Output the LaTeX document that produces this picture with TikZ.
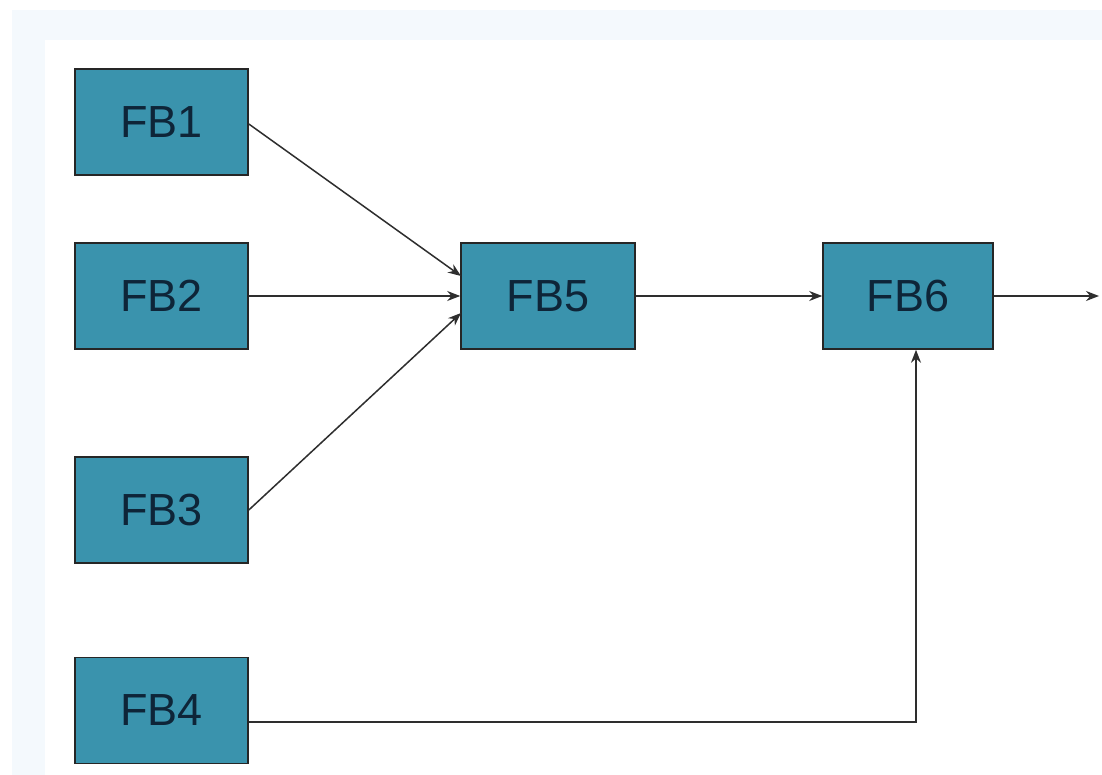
\documentclass[tikz,border=0pt]{standalone}
\usepackage{fontspec}
\setmainfont{Liberation Sans}
\usetikzlibrary{arrows.meta}
\definecolor{boxfill}{HTML}{3A93AD}
\definecolor{boxtext}{HTML}{0E2538}
\definecolor{bgblue}{HTML}{F4F9FD}
\definecolor{linec}{HTML}{2E2E2E}
\begin{document}
\begin{tikzpicture}[x=1pt,y=-1pt,
  fb/.style={draw=black!85,line width=1.6pt,fill=boxfill,text=boxtext,minimum width=173pt,minimum height=106pt,inner sep=0pt,font=\fontsize{45}{45}\selectfont},
  conn/.style={draw=linec,line width=1.5pt,-{Stealth[length=13pt,width=10pt]}}]
\useasboundingbox (0,0) rectangle (1102,775);
\fill[bgblue] (12,10) rectangle (1102,775);
\fill[white] (45,40) rectangle (1102,775);
\node[fb] (fb1) at (161.5,122) {FB1};
\node[fb] (fb2) at (161.5,296) {FB2};
\node[fb] (fb3) at (161.5,510) {FB3};
\node[fb] (fb4) at (161.5,710.5) {FB4};
\node[fb,minimum width=174pt] (fb5) at (548,296) {FB5};
\node[fb,minimum width=170pt] (fb6) at (908,296) {FB6};
\coordinate (out) at (1099,296);
\coordinate (corner) at (916,722);
\draw[conn] (fb1.east |- 0,124) -- (461,276);
\draw[conn] (fb2.east) -- (fb5.west);
\draw[conn] (fb3.east |- 0,510) -- (461,313);
\draw[conn] (fb5.east) -- (fb6.west);
\draw[conn] (fb6.east) -- (out);
\draw[conn] (fb4.east |- 0,722) -- (corner) -- (fb6.south -| corner);
\end{tikzpicture}
\end{document}
